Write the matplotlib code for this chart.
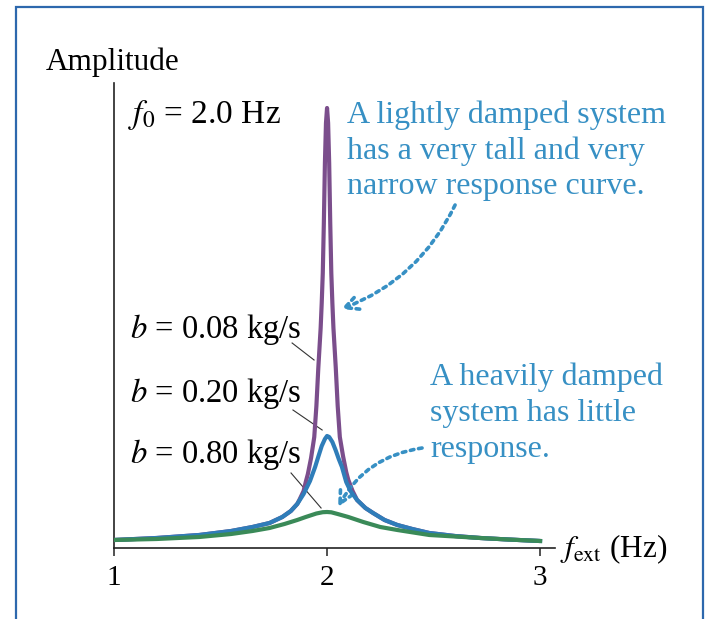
import numpy as np
import matplotlib
matplotlib.use("Agg")
import matplotlib.pyplot as plt
from matplotlib.patches import Rectangle

plt.rcParams['font.family'] = ['Liberation Serif', 'DejaVu Serif']
plt.rcParams['mathtext.fontset'] = 'stix'

# driving frequency (Hz) and amplitude (arbitrary units)
f_light = [1.0, 1.2, 1.4, 1.55, 1.65, 1.73, 1.79, 1.83, 1.86, 1.87, 1.89, 1.90, 1.91,
           1.925, 1.94, 1.95, 1.959, 1.97, 1.975, 1.98, 1.985, 1.99, 1.995, 2.0,
           2.005, 2.01, 2.015, 2.02, 2.025, 2.03, 2.041, 2.05, 2.06, 2.075, 2.09, 2.10,
           2.12, 2.141, 2.18, 2.216, 2.27, 2.33, 2.4, 2.48, 2.6, 2.72, 2.85, 3.0]
a_light = [0.08, 0.10, 0.13, 0.17, 0.21, 0.25, 0.31, 0.37, 0.44, 0.48, 0.57, 0.66, 0.74,
           0.90, 1.11, 1.42, 1.80, 2.20, 2.45, 2.75, 3.25, 3.85, 4.25, 4.40,
           4.25, 3.85, 3.25, 2.75, 2.45, 2.20, 1.80, 1.42, 1.11, 0.92, 0.76, 0.68,
           0.57, 0.48, 0.40, 0.35, 0.28, 0.23, 0.19, 0.15, 0.12, 0.10, 0.085, 0.07]

f_mid = [1.0, 1.2, 1.4, 1.55, 1.65, 1.73, 1.79, 1.83, 1.86, 1.89, 1.92, 1.944, 1.96,
         1.975, 1.99, 2.0, 2.01, 2.025, 2.04, 2.055, 2.07, 2.09, 2.11, 2.141, 2.18,
         2.216, 2.27, 2.33, 2.4, 2.48, 2.6, 2.72, 2.85, 3.0]
a_mid = [0.08, 0.10, 0.13, 0.17, 0.21, 0.25, 0.31, 0.37, 0.44, 0.54, 0.67, 0.81, 0.92,
         1.02, 1.09, 1.12, 1.11, 1.06, 0.98, 0.89, 0.81, 0.66, 0.57, 0.48, 0.40,
         0.35, 0.28, 0.23, 0.19, 0.15, 0.12, 0.10, 0.085, 0.07]

f_heavy = [1.0, 1.2, 1.4, 1.55, 1.65, 1.73, 1.80, 1.86, 1.90, 1.95, 1.98, 2.0, 2.02,
           2.05, 2.1, 2.17, 2.25, 2.33, 2.48, 2.6, 2.72, 2.85, 3.0]
a_heavy = [0.08, 0.09, 0.11, 0.14, 0.17, 0.20, 0.24, 0.28, 0.31, 0.345, 0.358, 0.36, 0.357,
           0.34, 0.31, 0.26, 0.21, 0.18, 0.13, 0.115, 0.10, 0.085, 0.07]

damping = ['0.08', '0.20', '0.80']
xticks = [1, 2, 3]

purple = '#7b4e8c'
blue = '#2f7db9'
green = '#3a8a58'
note = '#3790c4'

W, H = 709, 619
fig = plt.figure(figsize=(W / 100, H / 100), dpi=100)
ax = fig.add_axes([114 / W, (H - 548) / H, 441 / W, 465 / H])

ax.plot(f_light, a_light, color=purple, lw=3, solid_joinstyle='round',
        solid_capstyle='round', zorder=3)
ax.plot(f_mid, a_mid, color=blue, lw=3, solid_joinstyle='round', zorder=4)
ax.plot(f_heavy, a_heavy, color=green, lw=3, solid_joinstyle='round', zorder=5)

ax.set_xlim(1, 3.07)
ax.set_ylim(0, 4.65)
ax.set_xticks(xticks)
ax.set_xticklabels([str(t) for t in xticks], fontsize=21)
ax.set_yticks([])
ax.tick_params(axis='x', direction='out', length=6, width=1.1, pad=6, color='#222222')
for s in ['top', 'right']:
    ax.spines[s].set_visible(False)
for s in ['left', 'bottom']:
    ax.spines[s].set_color('#222222')
    ax.spines[s].set_linewidth(1.2)

# text labels
ax.text(0.681, 4.78, 'Amplitude', fontsize=22.5, va='baseline', clip_on=False)
ax.text(1.066, 4.25, r'$f_0$ = 2.0 Hz', fontsize=24, va='baseline')
ax.text(3.094, -0.09, r'$f_{\rm ext}$ (Hz)', fontsize=22.5, va='baseline', clip_on=False)

label_y = [2.10, 1.46, 0.85]
for b, yb in zip(damping, label_y):
    ax.text(1.075, yb, r'$b$ = ' + b + ' kg/s', fontsize=23.5, va='baseline')

# leader lines
ax.plot([1.836, 1.939], [2.05, 1.88], color='#333333', lw=0.8)
ax.plot([1.840, 1.977], [1.38, 1.18], color='#333333', lw=0.8)
ax.plot([1.831, 1.972], [0.75, 0.40], color='#333333', lw=0.8)

light_lines = ['A lightly damped system', 'has a very tall and very',
               'narrow response curve.']
for i, t in enumerate(light_lines):
    ax.text(2.094, 4.25 - i * 0.355, t, fontsize=23, color=note, va='baseline')

heavy_lines = ['A heavily damped', 'system has little', 'response.']
for i, t in enumerate(heavy_lines):
    ax.text(2.484, 1.63 - i * 0.36, t, fontsize=23, color=note, va='baseline')

ax.annotate('', xy=(2.066, 2.39), xytext=(2.601, 3.43),
            arrowprops=dict(arrowstyle='->', color=note, lw=2.6, linestyle=(0, (1, 1.3)),
                            connectionstyle='arc3,rad=-0.2', mutation_scale=24,
                            shrinkA=0, shrinkB=0))
ax.annotate('', xy=(2.052, 0.41), xytext=(2.446, 1.0),
            arrowprops=dict(arrowstyle='->', color=note, lw=2.6, linestyle=(0, (1, 1.3)),
                            connectionstyle='arc3,rad=0.25', mutation_scale=24,
                            shrinkA=0, shrinkB=0))

# blue frame around the figure
fig.patches.append(Rectangle((16 / W, -0.05), 687 / W, 1.05 - 7 / H,
                             transform=fig.transFigure, fill=False,
                             edgecolor='#2d68ad', lw=1.6))

fig.savefig('out.png', dpi=100)
